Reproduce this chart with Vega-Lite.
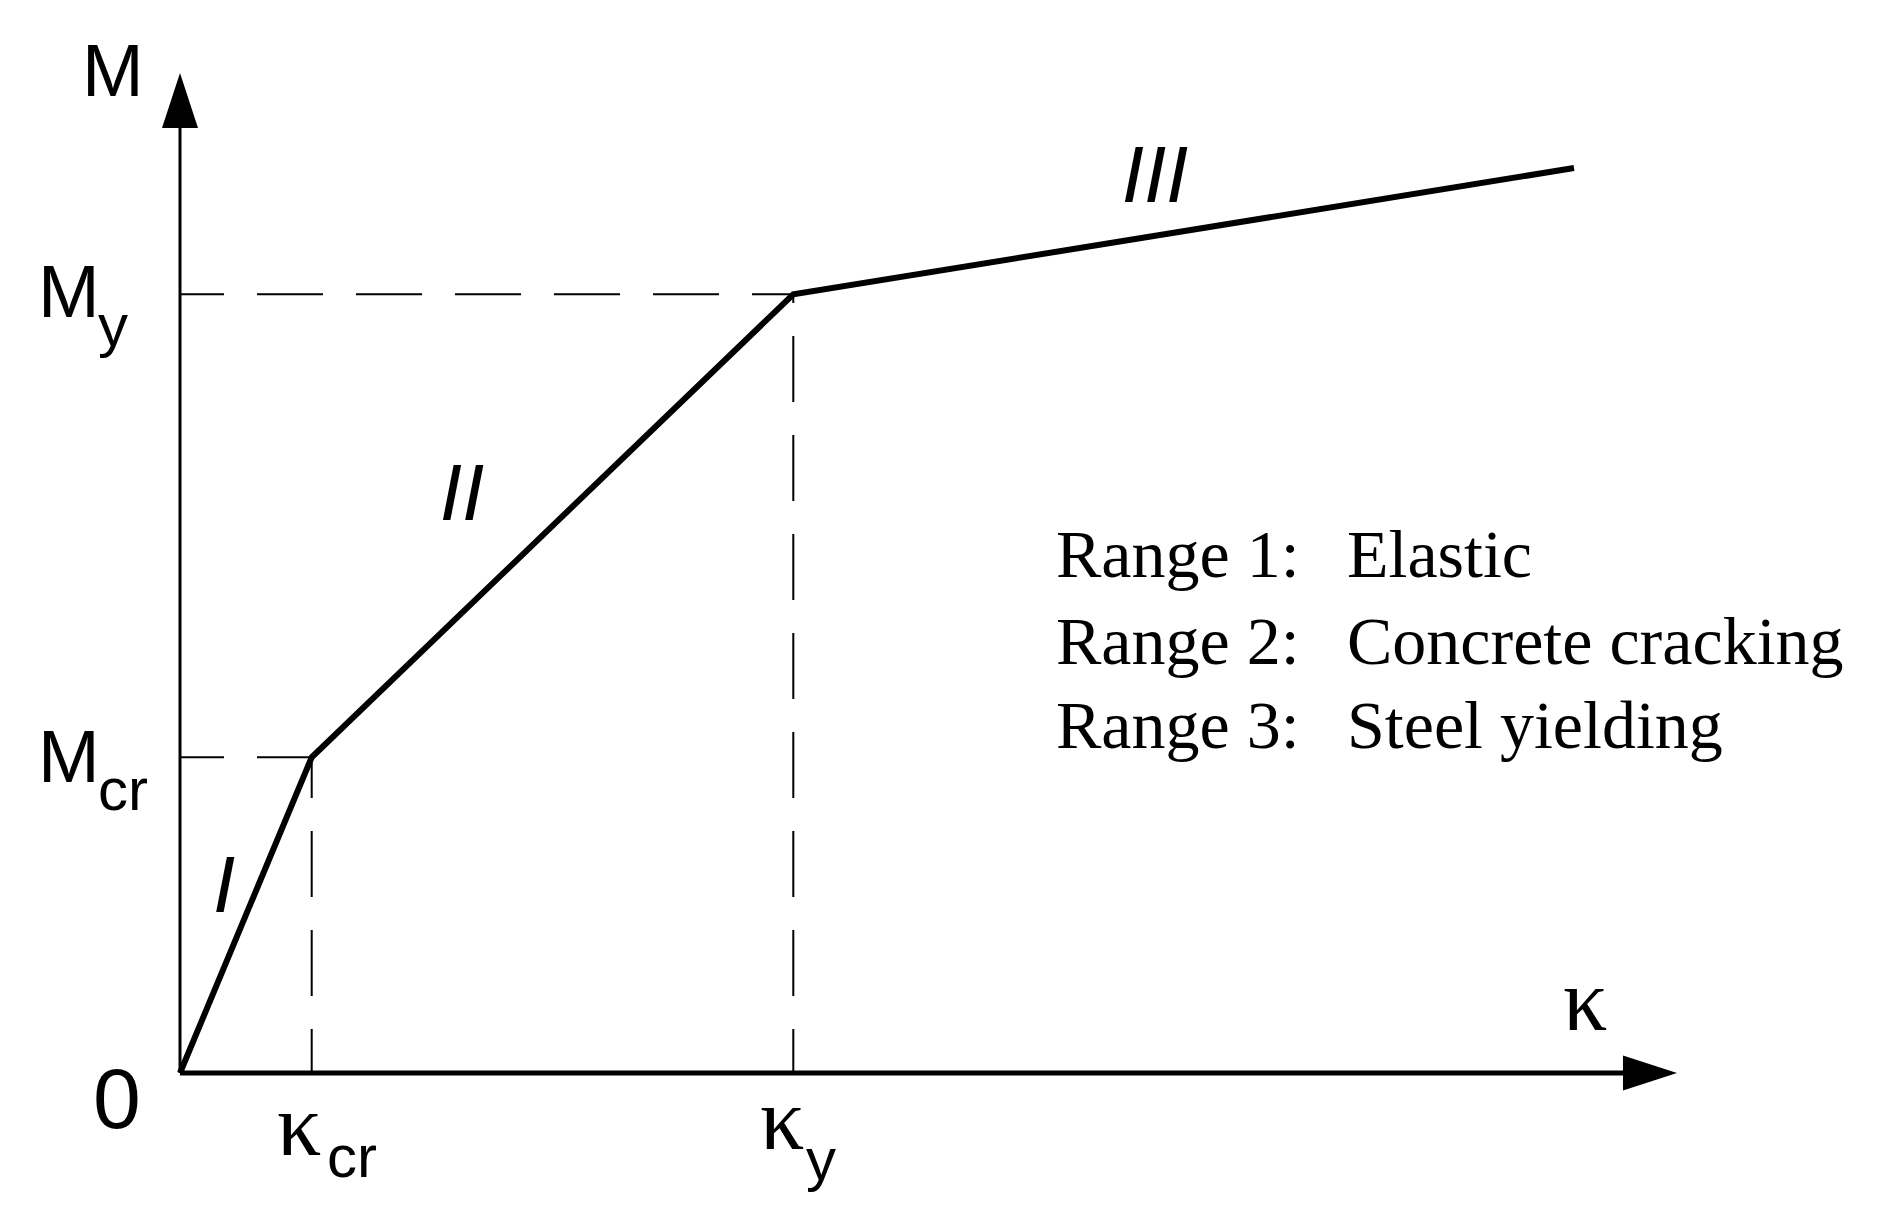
{
  "$schema": "https://vega.github.io/schema/vega-lite/v6.json",
  "width": 1886,
  "height": 1227,
  "padding": 0,
  "autosize": {"type": "none"},
  "background": "white",
  "config": {"view": {"stroke": null}},
  "datasets": {
    "curve": [
      {"kappa": 0, "M": 0},
      {"kappa": 1.317, "M": 3.157},
      {"kappa": 6.133, "M": 7.787},
      {"kappa": 13.94, "M": 9.05}
    ],
    "guides": [
      {"k1": 0, "k2": 1.317, "m1": 3.157, "m2": 3.157},
      {"k1": 1.317, "k2": 1.317, "m1": 0, "m2": 3.157},
      {"k1": 0, "k2": 6.133, "m1": 7.787, "m2": 7.787},
      {"k1": 6.133, "k2": 6.133, "m1": 0, "m2": 7.787}
    ],
    "bigSans": [
      {"t": "M", "kappa": -0.98, "M": 9.77},
      {"t": "M", "kappa": -1.42, "M": 7.56},
      {"t": "M", "kappa": -1.42, "M": 2.91}
    ],
    "zero": [{"t": "0", "kappa": -0.87, "M": -0.55}],
    "subs": [
      {"t": "y", "kappa": -0.82, "M": 7.27},
      {"t": "cr", "kappa": -0.82, "M": 2.63},
      {"t": "cr", "kappa": 1.47, "M": -1.04},
      {"t": "y", "kappa": 6.26, "M": -1.07}
    ],
    "kappas": [
      {"t": "κ", "kappa": 0.97, "M": -0.82},
      {"t": "κ", "kappa": 5.80, "M": -0.76},
      {"t": "κ", "kappa": 13.83, "M": 0.43}
    ],
    "ranges": [
      {"t": "I", "kappa": 0.44, "M": 1.61},
      {"t": "II", "kappa": 2.82, "M": 5.53},
      {"t": "III", "kappa": 9.75, "M": 8.71}
    ],
    "legend": [
      {"label": "Range 1:", "desc": "Elastic", "k1": 8.76, "k2": 11.67, "M": 4.96},
      {"label": "Range 2:", "desc": "Concrete cracking", "k1": 8.76, "k2": 11.67, "M": 4.09},
      {"label": "Range 3:", "desc": "Steel yielding", "k1": 8.76, "k2": 11.67, "M": 3.25}
    ]
  },
  "encoding": {
    "x": {"field": "kappa", "type": "quantitative", "axis": null, "scale": {"domain": [-1.8, 17.06], "nice": false, "zero": false}},
    "y": {"field": "M", "type": "quantitative", "axis": null, "scale": {"domain": [-1.54, 10.73], "nice": false, "zero": false}}
  },
  "layer": [
    {
      "data": {"name": "guides"},
      "mark": {"type": "rule", "color": "black", "strokeWidth": 2, "strokeDash": [66, 33], "strokeDashOffset": 22},
      "encoding": {
        "x": {"field": "k1", "type": "quantitative"},
        "x2": {"field": "k2"},
        "y": {"field": "m1", "type": "quantitative"},
        "y2": {"field": "m2"}
      }
    },
    {
      "data": {"values": [{"k1": 0, "k2": 14.5, "m": 0}]},
      "mark": {"type": "rule", "color": "black", "strokeWidth": 5},
      "encoding": {
        "x": {"field": "k1", "type": "quantitative"},
        "x2": {"field": "k2"},
        "y": {"field": "m", "type": "quantitative"}
      }
    },
    {
      "data": {"values": [{"k": 0, "m1": 0, "m2": 9.5}]},
      "mark": {"type": "rule", "color": "black", "strokeWidth": 3},
      "encoding": {
        "x": {"field": "k", "type": "quantitative"},
        "y": {"field": "m1", "type": "quantitative"},
        "y2": {"field": "m2"}
      }
    },
    {
      "data": {"values": [{"kappa": 0, "M": 9.725}]},
      "mark": {"type": "point", "filled": true, "color": "black", "opacity": 1, "shape": "M0,-1L-0.655,1L0.655,1Z", "size": 3025, "strokeWidth": 0}
    },
    {
      "data": {"values": [{"kappa": 14.70, "M": 0}]},
      "mark": {"type": "point", "filled": true, "color": "black", "opacity": 1, "shape": "M1,0L-1,-0.65L-1,0.65Z", "size": 2916, "strokeWidth": 0}
    },
    {
      "data": {"name": "curve"},
      "mark": {"type": "line", "color": "black", "strokeWidth": 6, "strokeJoin": "miter"},
      "encoding": {"order": {"field": "kappa", "type": "quantitative"}}
    },
    {
      "data": {"name": "bigSans"},
      "mark": {"type": "text", "font": "Liberation Sans Narrow, Liberation Sans, sans-serif", "fontSize": 74, "align": "left", "baseline": "alphabetic", "color": "black"},
      "encoding": {"text": {"field": "t"}}
    },
    {
      "data": {"name": "zero"},
      "mark": {"type": "text", "font": "Liberation Sans Narrow, Liberation Sans, sans-serif", "fontSize": 86, "align": "left", "baseline": "alphabetic", "color": "black"},
      "encoding": {"text": {"field": "t"}}
    },
    {
      "data": {"name": "subs"},
      "mark": {"type": "text", "font": "Liberation Sans Narrow, Liberation Sans, sans-serif", "fontSize": 60, "align": "left", "baseline": "alphabetic", "color": "black"},
      "encoding": {"text": {"field": "t"}}
    },
    {
      "data": {"name": "kappas"},
      "mark": {"type": "text", "font": "Liberation Serif, serif", "fontSize": 88, "align": "left", "baseline": "alphabetic", "color": "black"},
      "encoding": {"text": {"field": "t"}}
    },
    {
      "data": {"name": "ranges"},
      "mark": {"type": "text", "font": "Liberation Sans Narrow, Liberation Sans, sans-serif", "fontSize": 80, "fontStyle": "italic", "align": "center", "baseline": "alphabetic", "color": "black"},
      "encoding": {"text": {"field": "t"}}
    },
    {
      "data": {"name": "legend"},
      "mark": {"type": "text", "font": "Liberation Serif, serif", "fontSize": 68, "align": "left", "baseline": "alphabetic", "color": "black"},
      "encoding": {"x": {"field": "k1", "type": "quantitative"}, "text": {"field": "label"}}
    },
    {
      "data": {"name": "legend"},
      "mark": {"type": "text", "font": "Liberation Serif, serif", "fontSize": 68, "align": "left", "baseline": "alphabetic", "color": "black"},
      "encoding": {"x": {"field": "k2", "type": "quantitative"}, "text": {"field": "desc"}}
    }
  ]
}
